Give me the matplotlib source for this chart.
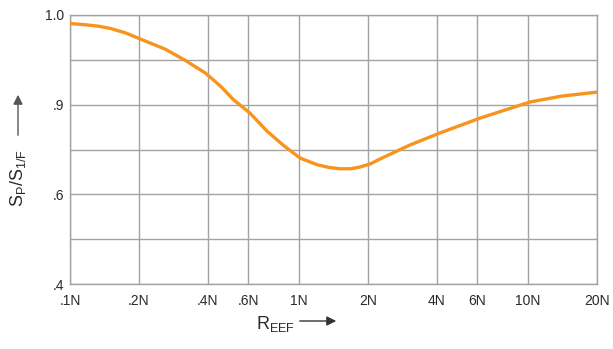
import numpy as np
import matplotlib.pyplot as plt

plt.rcParams['font.family'] = ['Liberation Sans', 'DejaVu Sans']
plt.rcParams['mathtext.fontset'] = 'custom'
plt.rcParams['mathtext.rm'] = 'Liberation Sans'

# R_EEF (multiplum av N) og forholdet S_P/S_1/F
r_eef = [0.1, 0.118, 0.133, 0.15, 0.175, 0.206, 0.26, 0.318, 0.389, 0.421,
         0.461, 0.515, 0.611, 0.725, 0.851, 1.01, 1.2, 1.35, 1.51, 1.68,
         1.85, 2.05, 2.26, 3.05, 4.13, 6.17, 10.2, 14, 20]
s_ratio = [0.981, 0.978, 0.975, 0.970, 0.960, 0.945, 0.924, 0.899, 0.871,
           0.856, 0.838, 0.812, 0.781, 0.741, 0.710, 0.681, 0.666, 0.660,
           0.657, 0.657, 0.661, 0.668, 0.679, 0.710, 0.737, 0.770, 0.806,
           0.819, 0.828]

x_ticks = [0.1, 0.2, 0.4, 0.6, 1, 2, 4, 6, 10, 20]
x_labels = ['.1N', '.2N', '.4N', '.6N', '1N', '2N', '4N', '6N', '10N', '20N']
y_ticks = [0.4, 0.6, 0.8, 1.0]
y_labels = ['.4', '.6', '.9', '1.0']

W, H = 613, 349
fig = plt.figure(figsize=(W / 100, H / 100), dpi=100)
ax = fig.add_axes([70 / W, 1 - 284 / H, 527 / W, 269 / H])

grid_col = '#a3a3a3'
ax.set_xscale('log')
ax.set_xlim(0.1, 20)
ax.set_ylim(0.4, 1.0)

for x in x_ticks:
    ax.axvline(x, color=grid_col, lw=1.0, zorder=1)
for y in np.arange(0.4, 1.01, 0.1):
    ax.axhline(y, color=grid_col, lw=1.0, zorder=1)
for s in ax.spines.values():
    s.set_color(grid_col)
    s.set_linewidth(1.0)

ax.plot(r_eef, s_ratio, color='#f7941d', lw=2.4, solid_joinstyle='round',
        solid_capstyle='round', zorder=3)

ax.xaxis.set_minor_locator(plt.NullLocator())
ax.set_xticks(x_ticks)
ax.set_xticklabels(x_labels)
ax.set_yticks(y_ticks)
ax.set_yticklabels(y_labels)
ax.tick_params(axis='both', length=0, labelsize=10, colors='#2a2a2a')
ax.tick_params(axis='x', pad=7)
ax.tick_params(axis='y', pad=4)

# aksetitler med piler
fig.text(18 / W, 1 - 178 / H, r'S$_\mathrm{P}$/S$_\mathrm{1/F}$', rotation=90,
         ha='center', va='center', fontsize=13, color='#2a2a2a')
fig.add_artist(plt.Annotation('', xy=(18 / W, 1 - 92 / H),
                              xytext=(18 / W, 1 - 138 / H),
                              xycoords='figure fraction',
                              arrowprops=dict(arrowstyle='-|>', color='#555555',
                                              lw=1.0, mutation_scale=14)))
fig.text(276 / W, 1 - 324 / H, r'R$_\mathrm{EEF}$', ha='center', va='center',
         fontsize=13, color='#2a2a2a')
fig.add_artist(plt.Annotation('', xy=(339 / W, 1 - 321 / H),
                              xytext=(297 / W, 1 - 321 / H),
                              xycoords='figure fraction',
                              arrowprops=dict(arrowstyle='-|>', color='#333333',
                                              lw=1.0, mutation_scale=14)))

fig.savefig('out.png', dpi=100, facecolor='white')
